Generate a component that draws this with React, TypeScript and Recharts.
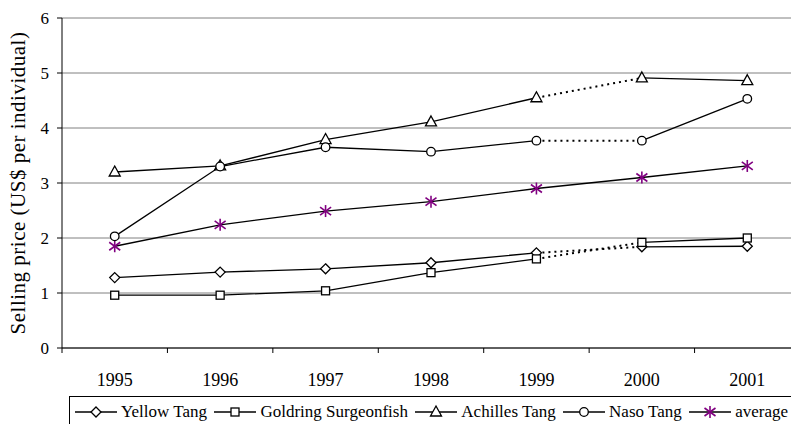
import React from "react";
import { LineChart, Line, XAxis, YAxis, CartesianGrid } from "recharts";

const years = ["1995", "1996", "1997", "1998", "1999", "2000", "2001"];
const yellowTang = [1.28, 1.38, 1.44, 1.55, 1.73, 1.84, 1.85];
const goldring = [0.96, 0.96, 1.04, 1.37, 1.62, 1.92, 2.0];
const achilles = [3.2, 3.31, 3.79, 4.11, 4.55, 4.91, 4.86];
const naso = [2.03, 3.3, 3.65, 3.57, 3.77, 3.77, 4.53];
const average = [1.85, 2.24, 2.49, 2.66, 2.9, 3.1, 3.31];
const yTicks = [0, 1, 2, 3, 4, 5, 6];
// the 1999 -> 2000 link is drawn dotted for the four species
const gapStart = 4;

const FONT = "Liberation Serif, DejaVu Serif, serif";
const W = 820;
const H = 424;
const LEFT = 62;
const RIGHT = 20;
const band = (W - LEFT - RIGHT) / years.length;

const split = (key: string, vals: number[]) => (i: number) => ({
  [key + "_a"]: i <= gapStart ? vals[i] : null,
  [key + "_b"]: i > gapStart ? vals[i] : null,
  [key + "_d"]: i === gapStart || i === gapStart + 1 ? vals[i] : null,
});

const species = [
  { key: "yt", name: "Yellow Tang", vals: yellowTang, shape: "diamond" },
  { key: "gs", name: "Goldring Surgeonfish", vals: goldring, shape: "square" },
  { key: "at", name: "Achilles Tang", vals: achilles, shape: "triangle" },
  { key: "nt", name: "Naso Tang", vals: naso, shape: "circle" },
];

const data = years.map((year, i) => {
  let row: Record<string, any> = { year, avg: average[i] };
  species.forEach((s) => (row = { ...row, ...split(s.key, s.vals)(i) }));
  return row;
});

function Marker({ shape, x, y }: { shape: string; x: number; y: number }) {
  const common = { fill: "#fff", stroke: "#000", strokeWidth: 1.3 };
  if (shape === "diamond")
    return <polygon points={`${x},${y - 5} ${x + 5},${y} ${x},${y + 5} ${x - 5},${y}`} {...common} />;
  if (shape === "square") return <rect x={x - 4} y={y - 4} width={8} height={8} {...common} />;
  if (shape === "triangle")
    return <polygon points={`${x},${y - 6} ${x + 5.5},${y + 4} ${x - 5.5},${y + 4}`} {...common} />;
  if (shape === "circle") return <circle cx={x} cy={y} r={4.3} {...common} />;
  return (
    <g stroke="#800080" strokeWidth={1.6}>
      <line x1={x} y1={y - 6} x2={x} y2={y + 6} />
      <line x1={x - 5.5} y1={y - 4} x2={x + 5.5} y2={y + 4} />
      <line x1={x - 5.5} y1={y + 4} x2={x + 5.5} y2={y - 4} />
    </g>
  );
}

const dotFor = (shape: string) => (p: any) => {
  const { cx, cy, index, value } = p;
  if (cx == null || cy == null || value == null) return <g key={`${shape}-${index}`} />;
  return (
    <g key={`${shape}-${index}`}>
      <Marker shape={shape} x={cx} y={cy} />
    </g>
  );
};

function YearTick({ x, y, payload }: any) {
  return (
    <g>
      <line x1={x - band / 2} x2={x - band / 2} y1={y - 5} y2={y} stroke="#000" />
      <text x={x} y={y + 33} textAnchor="middle" fontSize={18} fontFamily={FONT} fill="#000">
        {payload.value}
      </text>
    </g>
  );
}

function LegendIcon({ shape }: { shape: string }) {
  return (
    <svg width={42} height={16} style={{ display: "block" }}>
      <line x1={0} x2={42} y1={8} y2={8} stroke="#000" strokeWidth={1.3} />
      <Marker shape={shape} x={21} y={8} />
    </svg>
  );
}

export default function App() {
  const legendItems = [...species.map((s) => ({ name: s.name, shape: s.shape })), { name: "average", shape: "star" }];
  return (
    <div
      style={{
        position: "fixed",
        left: 0,
        top: 0,
        width: 791,
        height: 424,
        overflow: "hidden",
        background: "#fff",
        fontFamily: FONT,
      }}
    >
      <LineChart width={W} height={H} data={data} margin={{ top: 18, right: RIGHT, left: 0, bottom: 0 }}>
        <CartesianGrid vertical={false} stroke="#808080" strokeWidth={1} />
        <XAxis
          dataKey="year"
          height={76}
          padding={{ left: band / 2, right: band / 2 }}
          tickSize={5}
          tickMargin={0}
          tickLine={false}
          tick={<YearTick />}
          axisLine={{ stroke: "#000" }}
          interval={0}
        />
        <YAxis
          width={LEFT}
          domain={[0, 6]}
          ticks={yTicks}
          tickSize={5}
          tickMargin={8}
          tickLine={{ stroke: "#000" }}
          axisLine={{ stroke: "#000" }}
          tick={{ fontSize: 17, fill: "#000", fontFamily: FONT }}
          label={{
            value: "Selling price (US$ per individual)",
            angle: -90,
            position: "insideLeft",
            offset: 18,
            style: { textAnchor: "middle", fontSize: 21, letterSpacing: 0.5, fill: "#000", fontFamily: FONT },
          }}
        />
        {species.map((s) => (
          <Line
            key={s.key + "_d"}
            dataKey={s.key + "_d"}
            stroke="#000"
            strokeWidth={2}
            strokeDasharray="2 4"
            dot={false}
            isAnimationActive={false}
            type="linear"
          />
        ))}
        <Line dataKey="avg" stroke="#000" strokeWidth={1.3} dot={dotFor("star")} isAnimationActive={false} type="linear" />
        {species.flatMap((s) => [
          <Line
            key={s.key + "_a"}
            dataKey={s.key + "_a"}
            stroke="#000"
            strokeWidth={1.3}
            dot={dotFor(s.shape)}
            isAnimationActive={false}
            type="linear"
          />,
          <Line
            key={s.key + "_b"}
            dataKey={s.key + "_b"}
            stroke="#000"
            strokeWidth={1.3}
            dot={dotFor(s.shape)}
            isAnimationActive={false}
            type="linear"
          />,
        ])}
      </LineChart>
      <div
        style={{
          position: "absolute",
          left: 69,
          top: 396,
          width: 744,
          height: 40,
          border: "1px solid #000",
          display: "flex",
          justifyContent: "space-between",
          alignItems: "flex-start",
          paddingLeft: 5,
          paddingRight: 24,
          paddingTop: 6,
          boxSizing: "border-box",
          fontSize: 17,
          whiteSpace: "nowrap",
        }}
      >
        {legendItems.map((it) => (
          <div key={it.name} style={{ display: "flex", alignItems: "center" }}>
            <LegendIcon shape={it.shape} />
            <span style={{ marginLeft: 4, lineHeight: "18px" }}>{it.name}</span>
          </div>
        ))}
      </div>
    </div>
  );
}
